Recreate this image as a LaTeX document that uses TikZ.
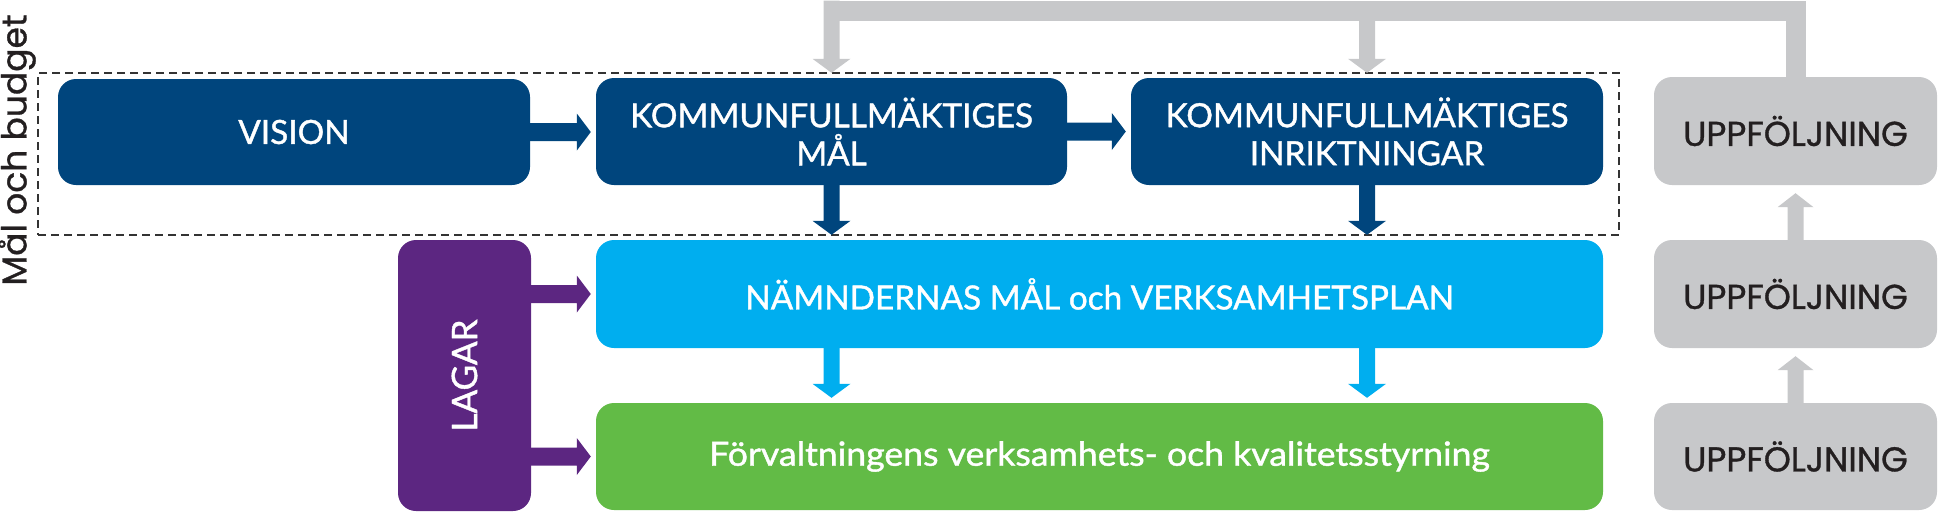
\documentclass[tikz,border=0pt]{standalone}
\usepackage{fontspec}
\setmainfont[FakeBold=1.2]{Lato}
\newfontfamily\wfontx[FakeBold=1.2,FakeStretch=1.07]{Lato}
\newfontfamily\grayfont[FakeBold=0.9]{Poppins}
\usetikzlibrary{calc}
\definecolor{dblue}{HTML}{00457D}
\definecolor{lblue}{HTML}{00AEEF}
\definecolor{lgreen}{HTML}{62BB46}
\definecolor{purp}{HTML}{5C2681}
\definecolor{lgray}{HTML}{C7C8CA}
\definecolor{tdark}{HTML}{231F20}
\definecolor{dashc}{HTML}{333333}
% right-pointing block arrow: start, target, colour
\newcommand\rarrowfill[3]{%
  \fill[#3] let \p1=(#1), \p2=(#2) in
   (\x1,\y1+9pt) -- (\x2-19pt,\y1+9pt) -- (\x2-19pt,\y1+18.5pt) -- (\x2-5pt,\y1)
   -- (\x2-19pt,\y1-18.5pt) -- (\x2-19pt,\y1-9pt) -- (\x1,\y1-9pt) -- cycle;}
% downward block arrow
\newcommand\darrowfill[3]{%
  \fill[#3] let \p1=(#1), \p2=(#2) in
   (\x1-8pt,\y1) -- (\x1-8pt,\y2+19pt) -- (\x1-19pt,\y2+19pt) -- (\x1,\y2+5pt)
   -- (\x1+19pt,\y2+19pt) -- (\x1+8pt,\y2+19pt) -- (\x1+8pt,\y1) -- cycle;}
% upward block arrow
\newcommand\uarrowfill[3]{%
  \fill[#3] let \p1=(#1), \p2=(#2) in
   (\x1-8pt,\y1) -- (\x1-8pt,\y2-22pt) -- (\x1-18pt,\y2-22pt) -- (\x1,\y2-8pt)
   -- (\x1+18pt,\y2-22pt) -- (\x1+8pt,\y2-22pt) -- (\x1+8pt,\y1) -- cycle;}
\tikzset{
  box/.style={rounded corners=18pt, inner sep=0pt, align=center},
  wtext/.style={text=white, font=\fontsize{33.3}{38}\selectfont},
  gtext/.style={text=tdark, font=\grayfont\fontsize{34.5}{38}\selectfont},
  dashbox/.style={draw=dashc, line width=1.8pt, dash pattern=on 8pt off 5pt, inner sep=0pt},
}
\begin{document}
\begin{tikzpicture}[x=1pt,y=-1pt]
\useasboundingbox (0,0) rectangle (1938,512);
% dashed frame
\node (mob) [dashbox, minimum width=1581pt, minimum height=162pt] at (828.5,154) {};
\node (mobl) [rotate=90, inner sep=0pt, text=tdark, font=\grayfont\fontsize{34.5}{38}\selectfont] at (17,150) {Mål och budget};
% boxes
\node (vision) [box, fill=dblue, wtext, minimum width=472pt, minimum height=106pt] at (294,132) {VISION};
\node (mal) [box, fill=dblue, wtext, minimum width=471pt, minimum height=107pt] at (831.5,131.5) {KOMMUNFULLMÄKTIGES\\MÅL};
\node (inrikt) [box, fill=dblue, wtext, minimum width=472pt, minimum height=107pt] at (1367,131.5) {KOMMUNFULLMÄKTIGES\\INRIKTNINGAR};
\node (uppf1) [box, fill=lgray, gtext, minimum width=283pt, minimum height=108pt] at (1795.5,131) {UPPFÖLJNING};
\node (lagar) [box, fill=purp, minimum width=133pt, minimum height=271pt] at (464.5,375.5) {};
\node (lagart) [rotate=90, inner sep=0pt, wtext, font=\fontsize{35}{38}\selectfont] at (lagar.center) {LAGAR};
\node (nam) [box, fill=lblue, wtext, minimum width=1007pt, minimum height=108pt] at (1099.5,294) {NÄMNDERNAS MÅL och VERKSAMHETSPLAN};
\node (forv) [box, fill=lgreen, wtext, font=\wfontx\fontsize{33.3}{38}\selectfont, minimum width=1007pt, minimum height=107pt] at (1099.5,456.5) {Förvaltningens verksamhets- och kvalitetsstyrning};
\node (uppf2) [box, fill=lgray, gtext, minimum width=283pt, minimum height=108pt] at (1795.5,294) {UPPFÖLJNING};
\node (uppf3) [box, fill=lgray, gtext, minimum width=283pt, minimum height=107pt] at (1795.5,456.5) {UPPFÖLJNING};
% horizontal arrows
\rarrowfill{vision.east}{mal.west}{dblue}
\rarrowfill{mal.east}{inrikt.west}{dblue}
\rarrowfill{lagar.east |- nam.west}{nam.west}{purp}
\rarrowfill{lagar.east |- forv.west}{forv.west}{purp}
% vertical arrows
\darrowfill{mal.south}{mal.south |- nam.north}{dblue}
\darrowfill{inrikt.south}{inrikt.south |- nam.north}{dblue}
\darrowfill{mal.south |- nam.south}{mal.south |- forv.north}{lblue}
\darrowfill{inrikt.south |- nam.south}{inrikt.south |- forv.north}{lblue}
\uarrowfill{uppf2.north}{uppf1.south}{lgray}
\uarrowfill{uppf3.north}{uppf2.south}{lgray}
% feedback connector from the top follow-up box
\coordinate (tb) at (0,10.5);
\draw[lgray, line width=20pt, line join=miter] (uppf1.north) -- (uppf1.north |- tb) -- ($(mal.north |- tb)+(-8,0)$);
\coordinate (tb0) at (0,0.5);
\darrowfill{mal.north |- tb0}{mal.north}{lgray}
\darrowfill{inrikt.north |- tb}{inrikt.north}{lgray}
\end{tikzpicture}
\end{document}
